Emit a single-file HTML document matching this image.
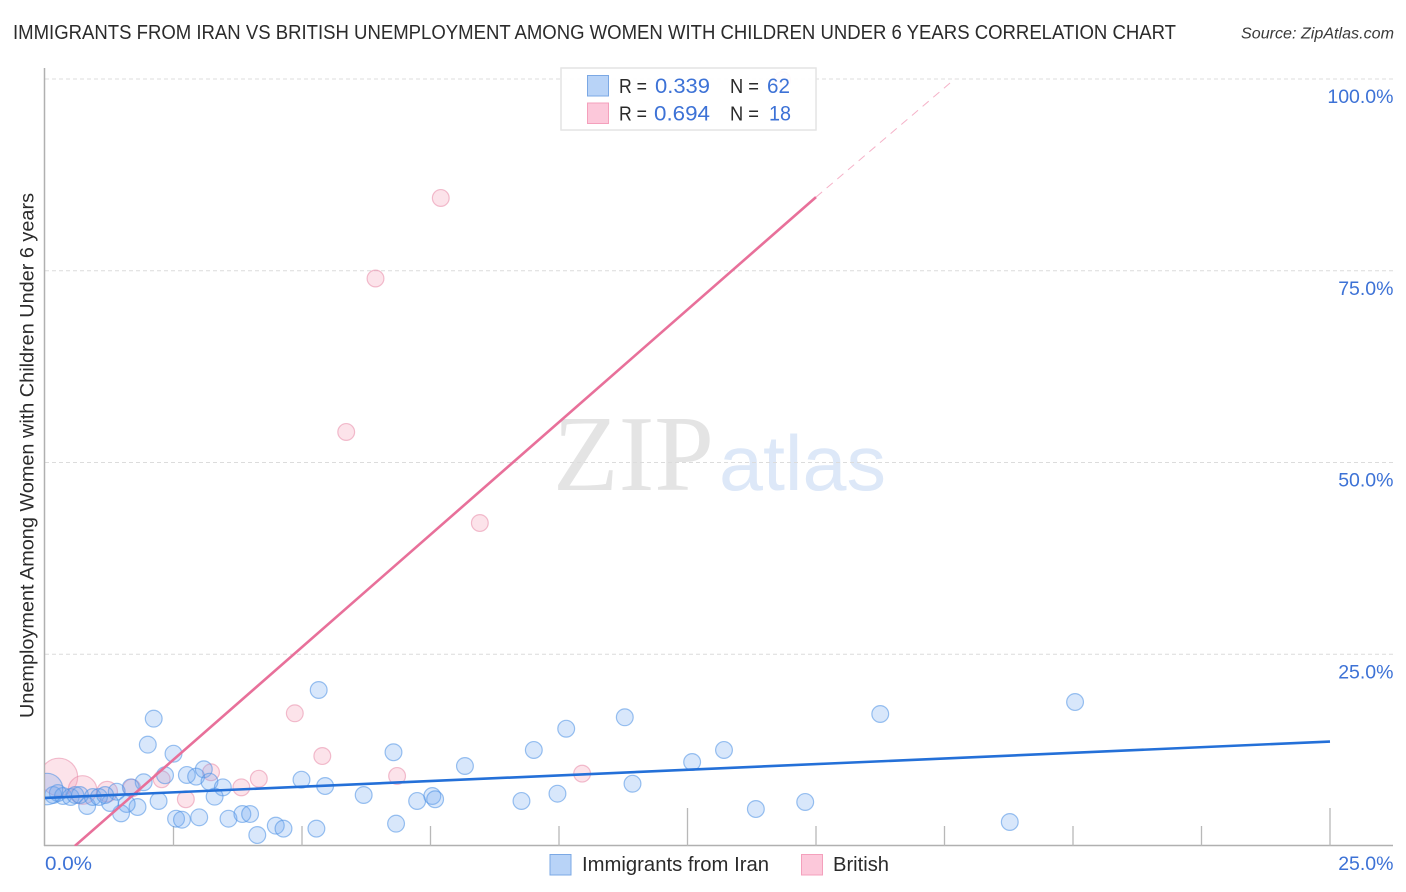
<!DOCTYPE html>
<html lang="en">
<head>
<meta charset="utf-8">
<title>Immigrants from Iran vs British Unemployment Correlation Chart</title>
<style>
html,body{margin:0;padding:0;background:#fff;width:1406px;height:892px;overflow:hidden}
svg{display:block}
text{font-family:"Liberation Sans",sans-serif}
</style>
</head>
<body>
<svg id="chart" xmlns="http://www.w3.org/2000/svg" width="1406" height="892" viewBox="0 0 1406 892">
  <defs>
    <clipPath id="plot-clip"><rect x="45" y="60" width="1350" height="786"/></clipPath>
  </defs>
  <text x="13" y="39" font-size="20" fill="#2b2b2b" textLength="1163" lengthAdjust="spacingAndGlyphs">IMMIGRANTS FROM IRAN VS BRITISH UNEMPLOYMENT AMONG WOMEN WITH CHILDREN UNDER 6 YEARS CORRELATION CHART</text>
  <text x="1241" y="38.5" font-size="15.5" font-style="italic" fill="#3a3a3a" textLength="153" lengthAdjust="spacingAndGlyphs">Source: ZipAtlas.com</text>

  <g>
    <text x="553" y="490" font-size="108" fill="#e4e4e4" style="font-family:'Liberation Serif',serif" textLength="161" lengthAdjust="spacingAndGlyphs">ZIP</text>
    <text x="719" y="490" font-size="78" fill="#dde8f8" textLength="167" lengthAdjust="spacingAndGlyphs">atlas</text>
  </g>

  <g id="grid"></g>
  <g id="axes"></g>
  <g id="points" clip-path="url(#plot-clip)"></g>
  <g id="trends" clip-path="url(#plot-clip)"></g>
  <g id="ticklabels"></g>

  <text transform="translate(33.5,718) rotate(-90)" font-size="19.5" fill="#2b2b2b" textLength="525" lengthAdjust="spacingAndGlyphs">Unemployment Among Women with Children Under 6 years</text>

  <g>
    <rect x="561" y="68" width="255" height="62" fill="#fff" fill-opacity="0.92" stroke="#e4e4e4" stroke-width="1.5"/>
    <rect x="587.5" y="75.5" width="21" height="20.5" fill="#b8d3f7" stroke="#7ba8e4" stroke-width="1"/>
    <rect x="587.5" y="103" width="21" height="20.5" fill="#fcc8da" stroke="#f4a0bc" stroke-width="1"/>
    <text x="619" y="93" font-size="20" fill="#2b2b2b" textLength="28" lengthAdjust="spacingAndGlyphs">R =</text>
    <text x="655" y="93" font-size="21" fill="#3d72d6" textLength="55" lengthAdjust="spacingAndGlyphs">0.339</text>
    <text x="730" y="93" font-size="20" fill="#2b2b2b" textLength="29" lengthAdjust="spacingAndGlyphs">N =</text>
    <text x="767" y="93" font-size="21" fill="#3d72d6" textLength="23" lengthAdjust="spacingAndGlyphs">62</text>
    <text x="619" y="120.5" font-size="20" fill="#2b2b2b" textLength="28" lengthAdjust="spacingAndGlyphs">R =</text>
    <text x="654" y="120.5" font-size="21" fill="#3d72d6" textLength="56" lengthAdjust="spacingAndGlyphs">0.694</text>
    <text x="730" y="120.5" font-size="20" fill="#2b2b2b" textLength="29" lengthAdjust="spacingAndGlyphs">N =</text>
    <text x="769" y="120.5" font-size="21" fill="#3d72d6" textLength="22" lengthAdjust="spacingAndGlyphs">18</text>
  </g>

  <g>
    <rect x="550" y="854.5" width="21" height="20.5" fill="#b8d3f7" stroke="#7ba8e4" stroke-width="1"/>
    <text x="582" y="871" font-size="20" fill="#2b2b2b" textLength="187" lengthAdjust="spacingAndGlyphs">Immigrants from Iran</text>
    <rect x="801.5" y="854.5" width="21" height="20.5" fill="#fcc8da" stroke="#f4a0bc" stroke-width="1"/>
    <text x="833" y="871" font-size="20" fill="#2b2b2b" textLength="56" lengthAdjust="spacingAndGlyphs">British</text>
  </g>
</svg>

<script>
// ---- chart data (percent values) ----
var iranX = [2.115,2.00,2.50,2.335,1.92,1.67,1.395,2.76,2.94,3.09,3.20,3.46,3.30,2.21,1.80,1.59,1.48,1.265,0.82,2.55,2.665,3.00,3.57,3.84,3.99,4.13,4.49,4.64,5.28,4.99,5.45,5.325,0.16,0.25,0.35,0.50,0.59,0.68,0.93,1.05,1.17,0.04,6.20,6.78,6.83,7.24,7.535,7.59,8.17,9.27,9.51,10.14,9.97,11.28,11.43,12.59,13.21,13.83,14.79,16.25,20.04,18.77];
var iranY = [16.60,13.21,12.03,9.22,8.31,7.65,7.08,9.26,9.04,10.00,8.38,7.65,6.43,5.87,5.08,5.48,4.26,5.61,5.22,3.56,3.43,3.74,3.56,4.17,4.17,1.43,2.65,2.26,2.26,8.64,7.82,20.34,6.65,6.91,6.52,6.39,6.65,6.65,6.39,6.39,6.65,7.43,6.65,12.22,2.91,5.87,6.52,6.09,10.43,5.87,12.52,15.29,6.82,16.78,8.12,10.95,12.52,4.82,5.74,17.21,18.77,3.13];
var iranWeight = [1,1,1,1,1,1,1,1,1,1,1,1,1,1,1,1,1,1,1,1,1,1,1,1,1,1,1,1,1,1,1,1,1,1,1,1,1,1,1,1,1,3.5,1,1,1,1,1,1,1,1,1,1,1,1,1,1,1,1,1,1,1,1];
var britishX = [0.27,0.73,1.21,1.69,2.27,2.74,3.23,3.82,4.16,4.86,5.395,5.86,6.43,6.85,7.70,8.46,10.45,14.34];
var britishY = [9.00,7.30,7.08,7.56,8.70,6.09,9.61,7.65,8.77,17.30,11.73,53.98,73.99,9.13,84.49,42.11,9.43,99.87];
var britishWeight = [5,2.9,1.5,1.1,1,1,1,1,1,1,1,1,1,1,1,1,1,1];
var iranTrendX = [0,25];
var iranTrendY = [6.26,13.62];
var britishTrendX = [0.58,15.0];
var britishTrendY = [0,84.6];
var britishExtensionX = [15.0,17.7];
var britishExtensionY = [84.6,100];
var yTicks = [25,50,75,100];
var yTickLabels = ["25.0%","50.0%","75.0%","100.0%"];
var xTicks = [2.5,5,7.5,10,12.5,15,17.5,20,22.5,25];
var xMajorTicks = [12.5,25];
var xEdgeLabels = ["0.0%","25.0%"];

// ---- axis functions ----
function xScale(v){ return 45 + v * 51.4; }
function yScale(v){ return 846 - v * 7.67; }
function radius(w){ return 8.4 * Math.sqrt(w); }

var NS = "http://www.w3.org/2000/svg";
function make(tag, parent, attrs){
  var el = document.createElementNS(NS, tag);
  for (var k in attrs) el.setAttribute(k, attrs[k]);
  parent.appendChild(el);
  return el;
}

var grid = document.getElementById("grid");
var axes = document.getElementById("axes");
var points = document.getElementById("points");
var trends = document.getElementById("trends");
var labels = document.getElementById("ticklabels");

yTicks.forEach(function(t, i){
  var g = make("line", grid, {x1:45, x2:1393, y1:yScale(t), y2:yScale(t), stroke:"#dcdcdc", "stroke-width":1, "stroke-dasharray":"4 3"});
  
  
  var l = make("text", labels, {x:1393.5, y:yScale(t) + 24, "text-anchor":"end", "font-size":19.5, fill:"#3d72d6"});
  l.textContent = yTickLabels[i];
  
  
});

var yAxis = make("line", axes, {x1:44.5, x2:44.5, y1:68, y2:846, stroke:"#b0b0b0", "stroke-width":1.5});


var xAxis = make("line", axes, {x1:44, x2:1393, y1:845.5, y2:845.5, stroke:"#b0b0b0", "stroke-width":1.5});



xTicks.forEach(function(t){
  var top = xMajorTicks.indexOf(t) >= 0 ? 808 : 826;
  var tk = make("line", axes, {x1:xScale(t), x2:xScale(t), y1:top, y2:846, stroke:"#b8b8b8", "stroke-width":1.3});
  
  
});

var xl0 = make("text", labels, {x:45, y:870, "font-size":19.5, fill:"#3d72d6", textLength:47, lengthAdjust:"spacingAndGlyphs"});
xl0.textContent = xEdgeLabels[0];


var xl1 = make("text", labels, {x:1393.5, y:870, "text-anchor":"end", "font-size":19.5, fill:"#3d72d6"});
xl1.textContent = xEdgeLabels[1];



britishX.forEach(function(v, i){
  var c = make("circle", points, {cx:xScale(v), cy:yScale(britishY[i]), r:radius(britishWeight[i]), fill:"#f4a3bb", "fill-opacity":0.3, stroke:"#e88aa8", "stroke-opacity":0.55, "stroke-width":1.2});
  
  
});
iranX.forEach(function(v, i){
  var c = make("circle", points, {cx:xScale(v), cy:yScale(iranY[i]), r:radius(iranWeight[i]), fill:"#6ea6f0", "fill-opacity":0.27, stroke:"#4a8fe3", "stroke-opacity":0.55, "stroke-width":1.2});
  
  
});

var ext = make("line", trends, {x1:xScale(britishExtensionX[0]), y1:yScale(britishExtensionY[0]), x2:xScale(britishExtensionX[1]), y2:yScale(britishExtensionY[1]), stroke:"#ee7fa3", "stroke-width":1, "stroke-dasharray":"8 6", "stroke-opacity":0.6});


var bt = make("line", trends, {x1:xScale(britishTrendX[0]), y1:yScale(britishTrendY[0]), x2:xScale(britishTrendX[1]), y2:yScale(britishTrendY[1]), stroke:"#e8709a", "stroke-width":2.6});


var it = make("line", trends, {x1:xScale(iranTrendX[0]), y1:yScale(iranTrendY[0]), x2:xScale(iranTrendX[1]), y2:yScale(iranTrendY[1]), stroke:"#2470d8", "stroke-width":2.6});


</script>
</body>
</html>
